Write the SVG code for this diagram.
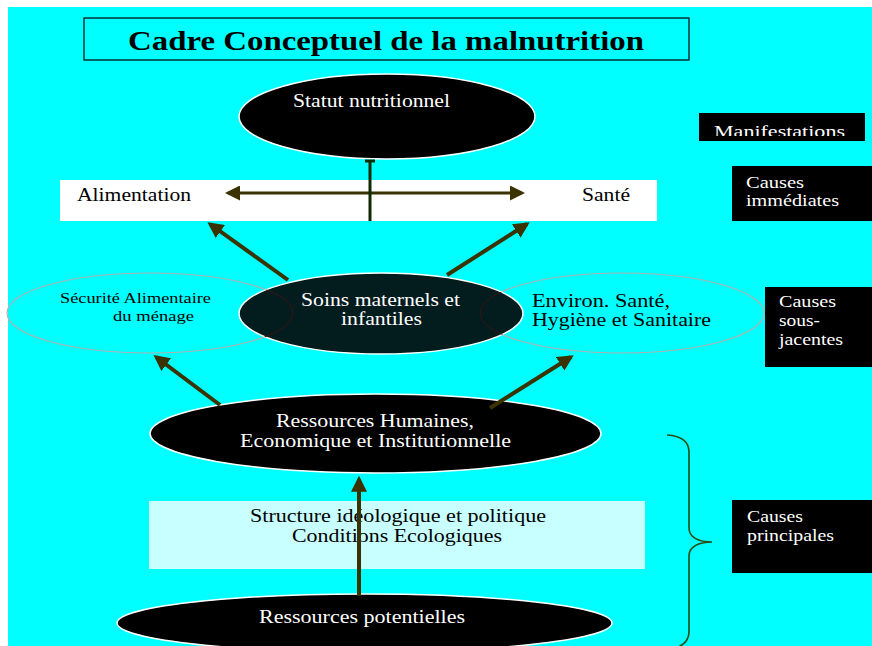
<svg xmlns="http://www.w3.org/2000/svg" width="872" height="646" viewBox="0 0 872 646">
  <defs>
    <style>
      text { font-family: "Liberation Serif", "Times New Roman", serif; }
      .w { fill: #ffffff; font-size: 19px; }
      .b { fill: #000000; font-size: 19px; }
      .lbl { fill: #ffffff; font-size: 17px; }
      .dark { fill: #000000; stroke: #ffffff; stroke-width: 1.5; }
      .ring { fill: none; stroke: #b0b0b0; stroke-width: 1.2; }
      .arrow { stroke: #3a3300; stroke-width: 4; fill: none; marker-end: url(#head); }
    </style>
    <marker id="head" viewBox="0 0 10 10" refX="8" refY="5" markerWidth="4" markerHeight="4" orient="auto" markerUnits="strokeWidth">
      <path d="M0,0 L10,5 L0,10 Z" fill="#3a3300"/>
    </marker>
    <marker id="head2" viewBox="0 0 10 10" refX="8" refY="5" markerWidth="5" markerHeight="5" orient="auto-start-reverse" markerUnits="strokeWidth">
      <path d="M0,0 L10,5 L0,10 Z" fill="#3a3300"/>
    </marker>
    <clipPath id="soinsClip"><ellipse cx="381" cy="313.5" rx="142" ry="40.5"/></clipPath>
    <clipPath id="manifClip"><rect x="699" y="113" width="166" height="23"/></clipPath>
  </defs>

  <!-- page background -->
  <rect x="0" y="0" width="872" height="646" fill="#ffffff"/>
  <rect x="8" y="7" width="864" height="639" fill="#00ffff"/>

  <!-- title -->
  <g id="title">
    <rect x="84" y="18" width="605" height="42" fill="none" stroke="#000" stroke-width="1.2"/>
    <text x="386" y="50" text-anchor="middle" font-size="28" font-weight="bold" textLength="516" lengthAdjust="spacingAndGlyphs">Cadre Conceptuel de la malnutrition</text>
  </g>

  <!-- side labels -->
  <g id="manifestations" font-size="17">
    <rect x="699" y="113" width="166" height="28" fill="#000"/>
    <text class="lbl" x="714" y="137" textLength="131" lengthAdjust="spacingAndGlyphs" clip-path="url(#manifClip)">Manifestations</text>
  </g>
  <g id="causes-immediates">
    <rect x="732" y="166" width="140" height="55" fill="#000"/>
    <text class="lbl" x="746" y="188" textLength="58" lengthAdjust="spacingAndGlyphs">Causes</text>
    <text class="lbl" x="746" y="206" textLength="93" lengthAdjust="spacingAndGlyphs">immédiates</text>
  </g>
  <g id="causes-sous-jacentes">
    <rect x="765" y="287" width="107" height="80" fill="#000"/>
    <text class="lbl" x="779" y="307" textLength="57" lengthAdjust="spacingAndGlyphs">Causes</text>
    <text class="lbl" x="779" y="326" textLength="41" lengthAdjust="spacingAndGlyphs">sous-</text>
    <text class="lbl" x="779" y="345" textLength="64" lengthAdjust="spacingAndGlyphs">jacentes</text>
  </g>
  <g id="causes-principales">
    <rect x="732" y="500" width="140" height="73" fill="#000"/>
    <text class="lbl" x="747" y="522" textLength="56" lengthAdjust="spacingAndGlyphs">Causes</text>
    <text class="lbl" x="747" y="541" textLength="87" lengthAdjust="spacingAndGlyphs">principales</text>
  </g>

  <!-- brace grouping the basic causes -->
  <path d="M667,435 C682,436 689,442 689,452 L689,528 C689,537 698,542 712,542 C698,542 689,547 689,556 L689,632 C689,640 684,645 676,648" fill="none" stroke="#2d4a12" stroke-width="1.6"/>

  <!-- nodes -->
  <g id="statut">
    <ellipse class="dark" cx="387" cy="116.5" rx="148" ry="42.5"/>
    <text class="w" x="293" y="107" textLength="157" lengthAdjust="spacingAndGlyphs">Statut nutritionnel</text>
  </g>

  <g id="alimentation-sante">
    <rect x="60" y="180" width="597" height="41" fill="#ffffff"/>
    <text class="b" x="77" y="201" textLength="114" lengthAdjust="spacingAndGlyphs">Alimentation</text>
    <text class="b" x="582" y="201" textLength="48" lengthAdjust="spacingAndGlyphs">Santé</text>
  </g>

  <g id="securite">
    <ellipse class="ring" cx="150" cy="313" rx="143" ry="40"/>
    <text x="60" y="303" font-size="15" textLength="151" lengthAdjust="spacingAndGlyphs">Sécurité Alimentaire</text>
    <text x="113" y="321" font-size="15" textLength="81" lengthAdjust="spacingAndGlyphs">du ménage</text>
  </g>

  <g id="environ">
    <ellipse class="ring" cx="622" cy="313" rx="142" ry="40"/>
  </g>

  <g id="soins">
    <ellipse cx="381" cy="313.5" rx="142" ry="40.5" fill="#031c1e" stroke="#ffffff" stroke-width="1.5"/>
    <g clip-path="url(#soinsClip)" fill="none" stroke="#3a1414" stroke-width="1">
      <ellipse cx="150" cy="313" rx="143" ry="40"/>
      <ellipse cx="622" cy="313" rx="142" ry="40"/>
    </g>
    <text class="w" x="301" y="306" textLength="159" lengthAdjust="spacingAndGlyphs">Soins maternels et</text>
    <text class="w" x="341" y="325" textLength="81" lengthAdjust="spacingAndGlyphs">infantiles</text>
  </g>

  <g id="environ-text">
    <text class="b" x="532" y="307" textLength="138" lengthAdjust="spacingAndGlyphs">Environ. Santé,</text>
    <text class="b" x="532" y="326" textLength="179" lengthAdjust="spacingAndGlyphs">Hygiène et Sanitaire</text>
  </g>

  <g id="ressources-humaines">
    <ellipse class="dark" cx="375.5" cy="433.5" rx="225.5" ry="39.5"/>
    <text class="w" x="276" y="427" textLength="198" lengthAdjust="spacingAndGlyphs">Ressources Humaines,</text>
    <text class="w" x="240" y="447" textLength="271" lengthAdjust="spacingAndGlyphs">Economique et Institutionnelle</text>
  </g>

  <g id="structure">
    <rect x="149" y="501" width="496" height="68" fill="#c8ffff"/>
    <text class="b" x="250" y="522" textLength="296" lengthAdjust="spacingAndGlyphs">Structure idéologique et politique</text>
    <text class="b" x="292" y="542" textLength="210" lengthAdjust="spacingAndGlyphs">Conditions Ecologiques</text>
  </g>

  <g id="ressources-potentielles">
    <ellipse class="dark" cx="364.5" cy="623" rx="247.5" ry="29"/>
    <text class="w" x="259" y="623" textLength="206" lengthAdjust="spacingAndGlyphs">Ressources potentielles</text>
  </g>

  <!-- connectors -->
  <g id="connectors">
    <line x1="228" y1="193" x2="522" y2="193" stroke="#3a3300" stroke-width="3" marker-start="url(#head2)" marker-end="url(#head2)"/>
    <line x1="370" y1="221" x2="370" y2="162" stroke="#0f2a00" stroke-width="3"/>
    <line x1="365" y1="161" x2="375" y2="161" stroke="#0f2a00" stroke-width="3"/>
    <line class="arrow" x1="288" y1="280" x2="210" y2="224"/>
    <line class="arrow" x1="447" y1="275" x2="527" y2="224"/>
    <line class="arrow" x1="220" y1="405" x2="156" y2="357"/>
    <line class="arrow" x1="490" y1="408" x2="571" y2="357"/>
    <line class="arrow" x1="359" y1="596" x2="359" y2="479"/>
  </g>
</svg>
